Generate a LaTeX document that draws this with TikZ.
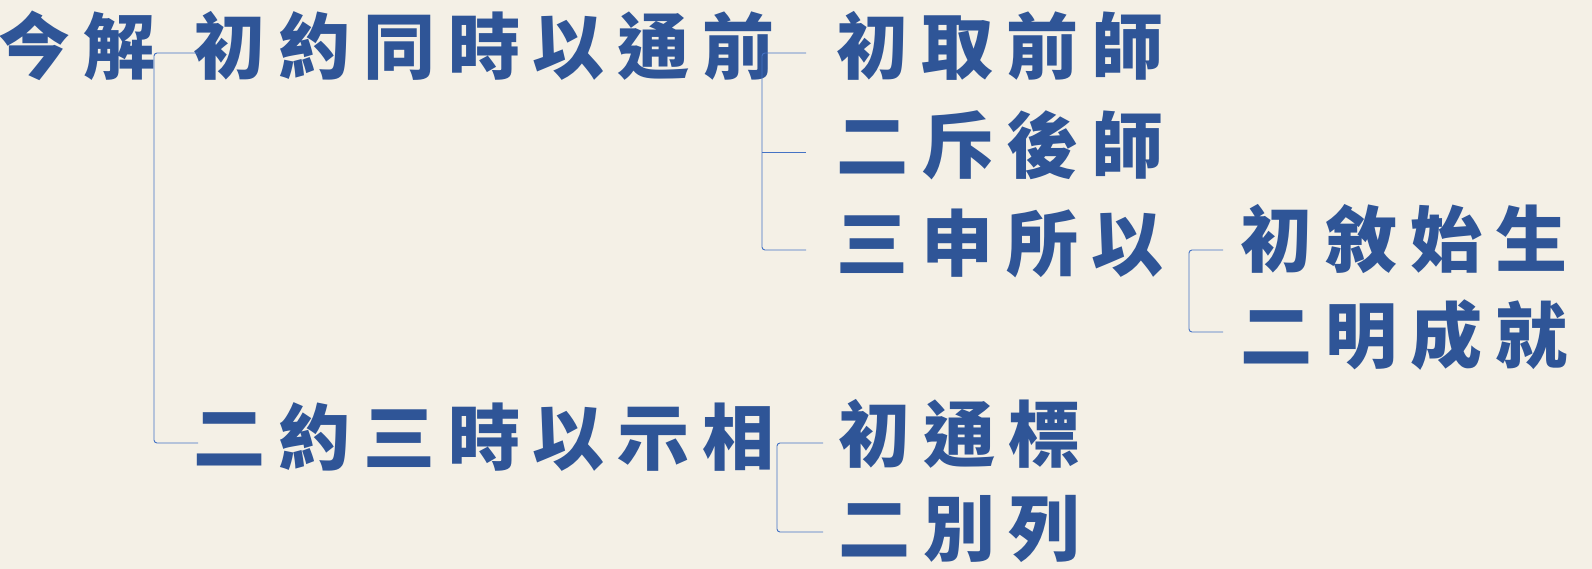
\documentclass[tikz,border=0pt]{standalone}
\usepackage{fontspec}
\newfontfamily\cjk[LetterSpace=18]{Noto Sans CJK TC}
\usetikzlibrary{positioning,calc}
\definecolor{paper}{HTML}{F4F0E6}
\definecolor{ink}{HTML}{2F5597}
\definecolor{rule}{HTML}{4472C4}

\begin{document}
\begin{tikzpicture}[x=1pt,y=-1pt,
  item/.style={anchor=west,inner sep=0pt,text=ink,
    font=\cjk\bfseries\fontsize{72}{72}\selectfont,
    text height=63pt,text depth=9pt},
  brk/.style={draw=rule,line width=0.9pt,rounded corners=3pt}]
  \fill[paper] (0,0) rectangle (1592,569);
  \useasboundingbox (0,0) rectangle (1592,569);
  % root and first level
  \node[item] (root) at (-2,47) {今解};
  \node[item] (a1) at (193,47) {初約同時以通前};
  \node[item] (a2) at (193,437) {二約三時以示相};
  % second level
  \node[item] (b1) at (836,47) {初取前師};
  \node[item] (b2) at (836,146) {二斥後師};
  \node[item] (b3) at (836,243) {三申所以};
  \node[item] (c1) at (1240,240) {初敘始生};
  \node[item] (c2) at (1240,335) {二明成就};
  \node[item] (d1) at (838,434) {初通標};
  \node[item] (d2) at (838,528) {二別列};
  % brackets (arms sit a little below the text middle)
  \draw[brk] ([xshift=5pt,yshift=-6pt]a1.west) -- ([xshift=-39pt,yshift=-6pt]a1.west)
    |- ([xshift=5pt,yshift=-6pt]a2.west);
  \draw[brk] ([xshift=-30pt,yshift=-6pt]b1.west) -- ([xshift=-74pt,yshift=-6pt]b1.west)
    |- ([xshift=-30pt,yshift=-7pt]b3.west);
  \draw[brk] ([xshift=-74pt,yshift=-6pt]b2.west) -- ([xshift=-30pt,yshift=-6pt]b2.west);
  \draw[brk] ([xshift=-17pt,yshift=-10pt]c1.west) -- ([xshift=-51pt,yshift=-10pt]c1.west)
    |- ([xshift=-17pt,yshift=3pt]c2.west);
  \draw[brk] ([xshift=-15pt,yshift=-9pt]d1.west) -- ([xshift=-61pt,yshift=-9pt]d1.west)
    |- ([xshift=-15pt,yshift=-4pt]d2.west);
\end{tikzpicture}
\end{document}
